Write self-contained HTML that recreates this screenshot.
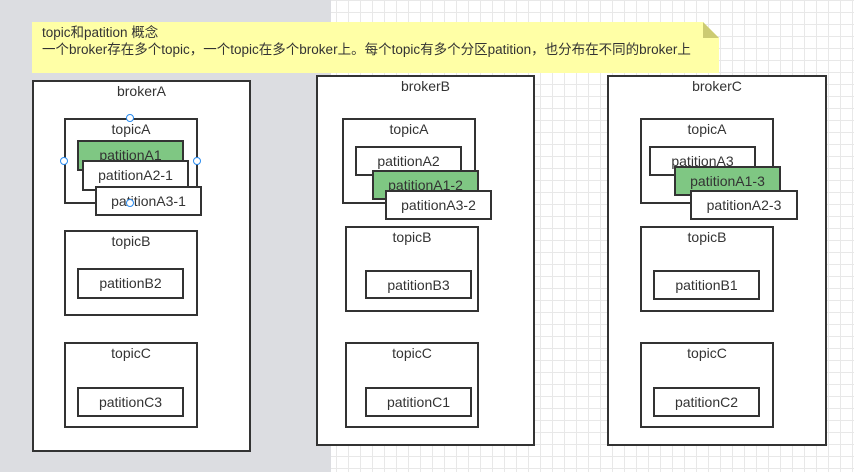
<!DOCTYPE html>
<html><head><meta charset="utf-8"><style>
body{margin:0;width:854px;height:472px;overflow:hidden;position:relative;background:#fff;
background-image:linear-gradient(#e8e8e8 1px,transparent 1px),linear-gradient(90deg,#e8e8e8 1px,transparent 1px);background-size:12px 12px;
font-family:"Liberation Sans","Noto Sans CJK SC",sans-serif;color:#333;}
.grey{position:absolute;left:0;top:0;width:331px;height:472px;background:#dcdde1;}
.b{position:absolute;box-sizing:border-box;border:2px solid #333;background:#fff;font-size:14px;text-align:center;}
.t{line-height:18px;padding-top:0}
.p{line-height:26px}
.g{background:#7fc783}
.note{position:absolute;left:32px;top:22px;width:687px;height:51px;background:#ffffa6;font-size:13.5px;line-height:17px;box-sizing:border-box;padding:2px 10px;clip-path:polygon(0 0,671px 0,687px 16px,687px 51px,0 51px);white-space:nowrap;}
.fold{position:absolute;left:703px;top:22px;width:16px;height:16px;background:#cccb72;clip-path:polygon(0 0,100% 100%,0 100%);}
.h{position:absolute;width:6px;height:6px;border:1.5px solid #2a8cf0;border-radius:50%;background:#fff}
</style></head><body>
<div class="grey"></div>
<div class="note">topic和patition 概念<br>一个broker存在多个topic，一个topic在多个broker上。每个topic有多个分区patition，也分布在不同的broker上</div>
<div class="fold"></div>

<div class="b t" style="left:32px;top:80px;width:219px;height:372px">brokerA</div>
<div class="b t" style="left:64px;top:118px;width:134px;height:86px">topicA</div>
<div class="b p g" style="left:77px;top:140px;width:107px;height:31px">patitionA1</div>
<div class="b p" style="left:82px;top:160px;width:107px;height:31px">patitionA2-1</div>
<div class="b p" style="left:95px;top:186px;width:107px;height:30px">patitionA3-1</div>
<div class="b t" style="left:64px;top:230px;width:134px;height:86px">topicB</div>
<div class="b p" style="left:77px;top:268px;width:107px;height:31px">patitionB2</div>
<div class="b t" style="left:64px;top:342px;width:134px;height:86px">topicC</div>
<div class="b p" style="left:77px;top:387px;width:107px;height:30px">patitionC3</div>
<div class="h" style="left:126px;top:114px"></div>
<div class="h" style="left:60px;top:157px"></div>
<div class="h" style="left:193px;top:157px"></div>
<div class="h" style="left:126px;top:199px"></div>

<div class="b t" style="left:316px;top:75px;width:219px;height:371px">brokerB</div>
<div class="b t" style="left:342px;top:118px;width:134px;height:86px">topicA</div>
<div class="b p" style="left:355px;top:146px;width:107px;height:30px">patitionA2</div>
<div class="b p g" style="left:372px;top:170px;width:107px;height:30px">patitionA1-2</div>
<div class="b p" style="left:385px;top:190px;width:107px;height:30px">patitionA3-2</div>
<div class="b t" style="left:345px;top:226px;width:134px;height:86px">topicB</div>
<div class="b p" style="left:365px;top:270px;width:107px;height:29px">patitionB3</div>
<div class="b t" style="left:345px;top:342px;width:134px;height:86px">topicC</div>
<div class="b p" style="left:365px;top:387px;width:107px;height:30px">patitionC1</div>

<div class="b t" style="left:607px;top:75px;width:220px;height:371px">brokerC</div>
<div class="b t" style="left:640px;top:118px;width:134px;height:86px">topicA</div>
<div class="b p" style="left:649px;top:146px;width:107px;height:30px">patitionA3</div>
<div class="b p g" style="left:674px;top:166px;width:107px;height:30px">patitionA1-3</div>
<div class="b p" style="left:690px;top:190px;width:108px;height:30px">patitionA2-3</div>
<div class="b t" style="left:640px;top:226px;width:134px;height:86px">topicB</div>
<div class="b p" style="left:653px;top:270px;width:107px;height:30px">patitionB1</div>
<div class="b t" style="left:640px;top:342px;width:134px;height:86px">topicC</div>
<div class="b p" style="left:653px;top:387px;width:107px;height:30px">patitionC2</div>
</body></html>
